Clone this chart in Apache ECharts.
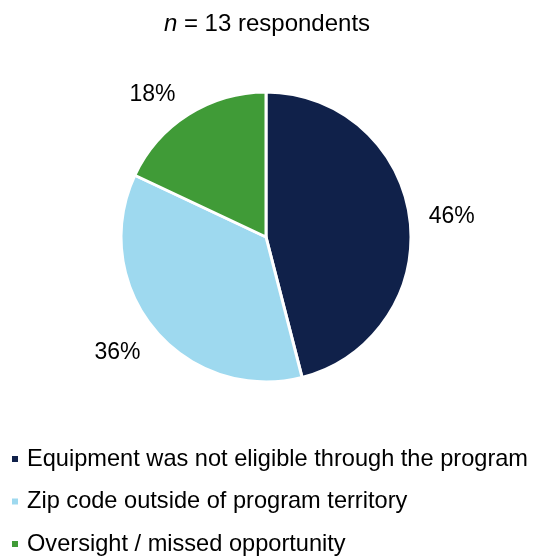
<!DOCTYPE html>
<html>
<head>
<meta charset="utf-8">
<script src="https://cdn.jsdelivr.net/npm/echarts@6/dist/echarts.min.js"></script>
<style>
  html, body { margin: 0; padding: 0; background: #fff; }
  #chart { width: 534px; height: 556px; }
</style>
</head>
<body>
<div id="chart"></div>
<script>
// Reasons given by respondents
const categories = [
  'Equipment was not eligible through the program',
  'Zip code outside of program territory',
  'Oversight / missed opportunity'
];
const shares = [46, 36, 18];
const colors = ['#10214A', '#9ED9EF', '#409B37'];
const sampleSize = 13;

// Leader distance (radial, horizontal) for each hidden label line
const labelRadial = [14, 36, 24];
const labelHorizontal = [0, -19, -5];

const chart = echarts.init(document.getElementById('chart'), null, { renderer: 'canvas' });
const font = 'Liberation Sans, Arial, sans-serif';

chart.setOption({
  animation: false,
  title: {
    text: '{i|n} = ' + sampleSize + ' respondents',
    left: 'center',
    top: 7,
    textStyle: {
      fontFamily: font, fontSize: 24, fontWeight: 'normal', color: '#000',
      rich: {
        i: { fontFamily: font, fontSize: 24, fontStyle: 'italic', color: '#000' }
      }
    }
  },
  legend: {
    orient: 'vertical',
    left: 10,
    top: 447,
    height: 109,
    padding: 0,
    icon: 'rect',
    itemWidth: 8,
    itemHeight: 8,
    itemGap: 18.5,
    selectedMode: false,
    textStyle: { fontFamily: font, fontSize: 23.6, color: '#000', padding: [0, 0, 0, 3] },
    data: categories
  },
  series: [{
    type: 'pie',
    center: [266, 237],
    radius: [0, 145],
    startAngle: 90,
    clockwise: true,
    avoidLabelOverlap: false,
    itemStyle: { borderColor: '#fff', borderWidth: 3 },
    label: {
      show: true,
      position: 'outside',
      formatter: '{c}%',
      fontFamily: font,
      fontSize: 23,
      color: '#000'
    },
    labelLine: { show: false, length: 14, length2: 0 },
    emphasis: { disabled: true },
    data: categories.map((name, i) => ({
      name: name,
      value: shares[i],
      itemStyle: { color: colors[i] },
      labelLine: { show: false, length: labelRadial[i], length2: labelHorizontal[i] }
    }))
  }]
});
</script>
</body>
</html>
